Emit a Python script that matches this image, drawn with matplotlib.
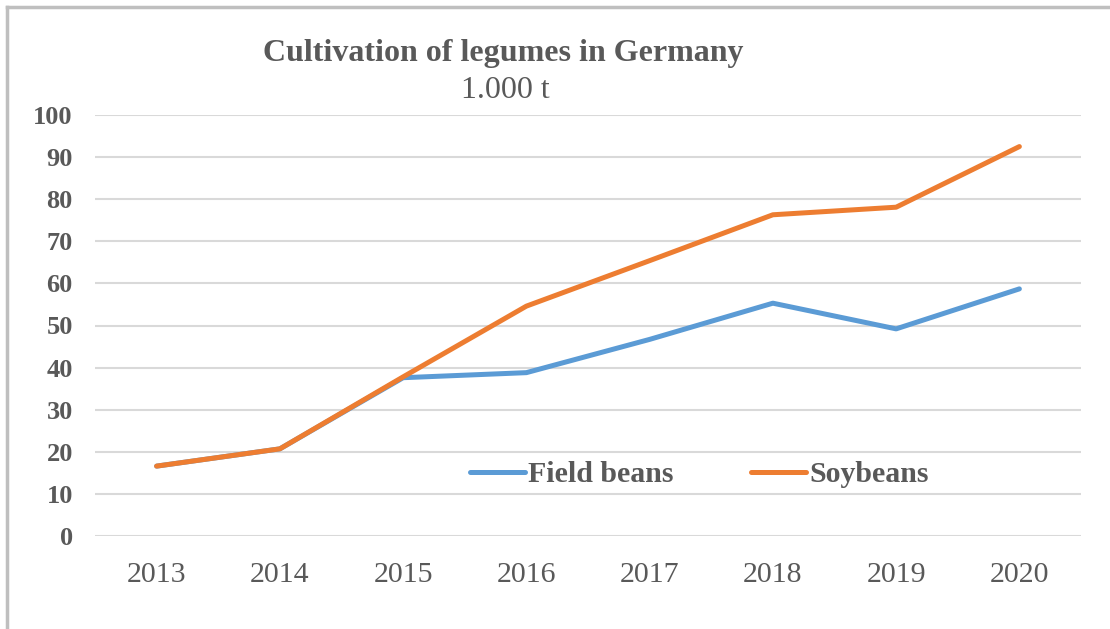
import matplotlib
matplotlib.use("Agg")
import matplotlib.pyplot as plt
from matplotlib.lines import Line2D

# data (1.000 t)
years = ["2013", "2014", "2015", "2016", "2017", "2018", "2019", "2020"]
field_beans = [16.6, 20.7, 37.6, 38.8, 46.7, 55.3, 49.2, 58.7]
soybeans = [16.6, 20.7, 37.8, 54.6, 65.4, 76.3, 78.1, 92.5]
y_ticks = [0, 10, 20, 30, 40, 50, 60, 70, 80, 90, 100]

BLUE = "#5B9BD5"
ORANGE = "#ED7D31"
TEXT = "#595959"
GRID = "#D9D9D9"

plt.rcParams["font.family"] = ["Liberation Serif", "DejaVu Serif"]

fig = plt.figure(figsize=(11.10, 6.29), dpi=100)
ax = fig.add_axes([95 / 1110, 93 / 629, 986 / 1110, 421 / 629])

x = list(range(len(years)))
ax.plot(x, field_beans, color=BLUE, lw=3.6, solid_capstyle="round",
        solid_joinstyle="round", label="Field beans", zorder=3)
ax.plot(x, soybeans, color=ORANGE, lw=3.6, solid_capstyle="round",
        solid_joinstyle="round", label="Soybeans", zorder=4)

ax.set_xlim(-0.5, len(years) - 0.5)
ax.set_ylim(0, 100)
ax.set_yticks(y_ticks)
ax.set_xticks(x)
ax.set_xticklabels(years)
for s in ax.spines.values():
    s.set_visible(False)
ax.grid(axis="y", color=GRID, lw=1.5)
ax.set_axisbelow(True)
ax.tick_params(axis="both", length=0, colors=TEXT)
ax.tick_params(axis="x", labelsize=21.5, pad=19)
ax.tick_params(axis="y", labelsize=19, pad=16)
for t in ax.get_yticklabels():
    t.set_fontweight("bold")

fig.text(0.4535, 1 - 53 / 629, "Cultivation of legumes in Germany", ha="center",
         va="center", fontsize=23, fontweight="bold", color=TEXT)
fig.text(0.455, 1 - 90 / 629, "1.000 t", ha="center", va="center",
         fontsize=23, color=TEXT)

handles = [Line2D([], [], color=BLUE, lw=3.6, solid_capstyle="round"),
           Line2D([], [], color=ORANGE, lw=3.6, solid_capstyle="round")]
leg = ax.legend(handles, ["Field beans", "Soybeans"], ncol=2, frameon=False,
                loc="center", bbox_to_anchor=(0.613, 0.146),
                prop={"size": 21.5, "weight": "bold"}, handlelength=1.85,
                handletextpad=0.1, columnspacing=2.6)
for t in leg.get_texts():
    t.set_color(TEXT)

# chart border (left and top edges visible in the crop)
fig.add_artist(Line2D([7 / 1110, 7 / 1110], [0, 1 - 7 / 629],
                      transform=fig.transFigure, color="#BFBFBF", lw=2.5))
fig.add_artist(Line2D([7 / 1110, 1], [1 - 7 / 629, 1 - 7 / 629],
                      transform=fig.transFigure, color="#BFBFBF", lw=2.5))

fig.savefig("out.png", dpi=100)
